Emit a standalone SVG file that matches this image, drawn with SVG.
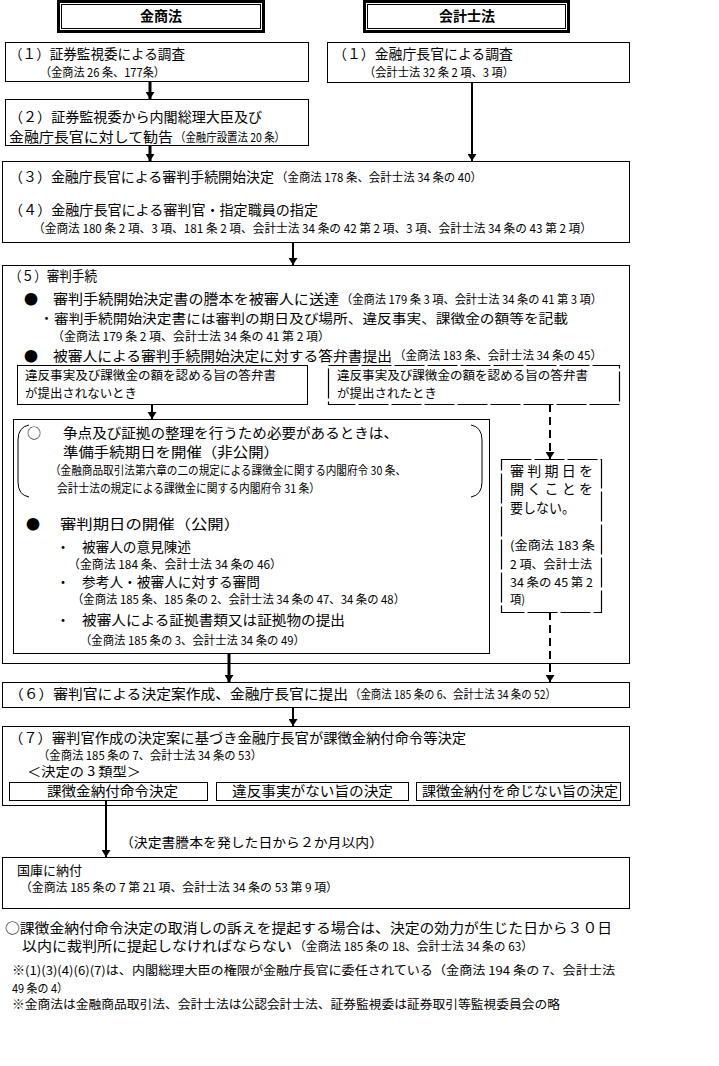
<svg xmlns="http://www.w3.org/2000/svg" width="719" height="1066" viewBox="0 0 719 1066">
<style>
.b{fill:#fff;stroke:#000;stroke-width:1}
.d{fill:#fff;stroke:#000;stroke-width:1.2;stroke-dasharray:30 3}
.t{font-family:"Noto Sans CJK JP","Noto Sans",sans-serif;font-size:14px;fill:#000}
.s{font-family:"Noto Sans CJK JP","Noto Sans",sans-serif;font-size:12px;fill:#000}
.m{font-family:"Noto Sans CJK JP","Noto Sans",sans-serif;font-size:13px;fill:#000}
.h{font-family:"Noto Sans CJK JP","Noto Sans",sans-serif;font-size:14px;font-weight:bold;fill:#000}
.c{stroke:#000;fill:none}
.br{fill:none;stroke:#000;stroke-width:1}
</style>
<defs>
<marker id="ah" markerUnits="userSpaceOnUse" viewBox="0 0 7 9" refX="7" refY="4.5" markerWidth="7" markerHeight="9" orient="auto"><path d="M0,0 L7,4.5 L0,9 z" fill="#000"/></marker>
</defs>
<rect width="719" height="1066" fill="#fff"/>

<g id="header-kinsho">
<rect x="58.5" y="1.5" width="205" height="30" fill="#fff" stroke="#000" stroke-width="3"/>
<rect x="61.5" y="4.5" width="199" height="24" fill="none" stroke="#000" stroke-width="1"/>
<text class="h" x="161" y="21" text-anchor="middle">金商法</text>
</g>
<g id="header-kaikei">
<rect x="364.5" y="1.5" width="204" height="30" fill="#fff" stroke="#000" stroke-width="3"/>
<rect x="367.5" y="4.5" width="198" height="24" fill="none" stroke="#000" stroke-width="1"/>
<text class="h" x="467" y="21" text-anchor="middle">会計士法</text>
</g>

<g id="n1-left">
<rect class="b" x="5.5" y="42.5" width="303" height="39"/>
<text class="t" x="9" y="59" textLength="176" lengthAdjust="spacingAndGlyphs">（１）証券監視委による調査</text>
<text class="s" x="40" y="77" textLength="125" lengthAdjust="spacingAndGlyphs">（金商法 26 条、177条）</text>
</g>
<g id="n2-left">
<rect class="b" x="5.5" y="99.5" width="303" height="46"/>
<text class="t" x="9" y="122" textLength="253" lengthAdjust="spacingAndGlyphs">（２）証券監視委から内閣総理大臣及び</text>
<text class="t" x="9" y="142" textLength="164" lengthAdjust="spacingAndGlyphs">金融庁長官に対して勧告</text>
<text class="s" x="175" y="142" textLength="110" lengthAdjust="spacingAndGlyphs">（金融庁設置法 20 条）</text>
</g>
<g id="n1-right">
<rect class="b" x="327.5" y="42.5" width="302" height="40"/>
<text class="t" x="333" y="59" textLength="180" lengthAdjust="spacingAndGlyphs">（１）金融庁長官による調査</text>
<text class="s" x="364" y="77" textLength="150" lengthAdjust="spacingAndGlyphs">（会計士法 32 条 2 項、3 項）</text>
</g>

<g id="n34">
<rect class="b" x="2.5" y="161.5" width="627" height="81"/>
<text class="t" x="9" y="182" textLength="265" lengthAdjust="spacingAndGlyphs">（３）金融庁長官による審判手続開始決定</text>
<text class="s" x="276" y="181.5" textLength="206" lengthAdjust="spacingAndGlyphs">（金商法 178 条、会計士法 34 条の 40）</text>
<text class="t" x="9" y="214.5" textLength="309" lengthAdjust="spacingAndGlyphs">（４）金融庁長官による審判官・指定職員の指定</text>
<text class="s" x="33" y="233" textLength="559" lengthAdjust="spacingAndGlyphs">（金商法 180 条 2 項、3 項、181 条 2 項、会計士法 34 条の 42 第 2 項、3 項、会計士法 34 条の 43 第 2 項）</text>
</g>

<g id="n5">
<rect class="b" x="2.5" y="265.5" width="627" height="398"/>
<text class="t" x="9" y="281" textLength="88" lengthAdjust="spacingAndGlyphs">（５）審判手続</text>
<text class="t" x="24" y="304">●</text>
<text class="t" x="53" y="304" textLength="286" lengthAdjust="spacingAndGlyphs">審判手続開始決定書の謄本を被審人に送達</text>
<text class="s" x="341" y="303.5" textLength="261" lengthAdjust="spacingAndGlyphs">（金商法 179 条 3 項、会計士法 34 条の 41 第 3 項）</text>
<text class="m" x="40" y="322.5">・</text>
<text class="m" x="54" y="322.5" textLength="514" lengthAdjust="spacingAndGlyphs">審判手続開始決定書には審判の期日及び場所、違反事実、課徴金の額等を記載</text>
<text class="s" x="52" y="340.5" textLength="278" lengthAdjust="spacingAndGlyphs">（金商法 179 条 2 項、会計士法 34 条の 41 第 2 項）</text>
<text class="t" x="24" y="360.5">●</text>
<text class="t" x="53" y="360.5" textLength="339" lengthAdjust="spacingAndGlyphs">被審人による審判手続開始決定に対する答弁書提出</text>
<text class="s" x="394" y="360" textLength="208" lengthAdjust="spacingAndGlyphs">（金商法 183 条、会計士法 34 条の 45）</text>
</g>

<g id="n5a">
<rect class="b" x="17.5" y="365.5" width="290" height="39"/>
<text class="s" x="25" y="380" textLength="251" lengthAdjust="spacingAndGlyphs">違反事実及び課徴金の額を認める旨の答弁書</text>
<text class="s" x="25" y="397.5" textLength="112" lengthAdjust="spacingAndGlyphs">が提出されないとき</text>
</g>
<g id="n5b">
<rect class="d" x="328.5" y="365.5" width="291" height="39"/>
<text class="s" x="337" y="380" textLength="251" lengthAdjust="spacingAndGlyphs">違反事実及び課徴金の額を認める旨の答弁書</text>
<text class="s" x="337" y="397.5" textLength="100" lengthAdjust="spacingAndGlyphs">が提出されたとき</text>
</g>

<g id="n5c">
<rect class="b" x="13.5" y="419.5" width="476" height="234"/>
<path class="br" d="M29,425 Q18,427 18,440 L18,482 Q18,495 29,497"/>
<path class="br" d="M471,425 Q482,427 482,440 L482,482 Q482,495 471,497"/>
<text class="t" x="27" y="438">○</text>
<text class="t" x="63" y="438" textLength="335" lengthAdjust="spacingAndGlyphs">争点及び証拠の整理を行うため必要があるときは、</text>
<text class="t" x="63" y="457" textLength="216" lengthAdjust="spacingAndGlyphs">準備手続期日を開催（非公開）</text>
<text class="s" x="50" y="475" textLength="356" lengthAdjust="spacingAndGlyphs">（金融商品取引法第六章の二の規定による課徴金に関する内閣府令 30 条、</text>
<text class="s" x="57" y="493" textLength="263" lengthAdjust="spacingAndGlyphs">会計士法の規定による課徴金に関する内閣府令 31 条）</text>
<text class="t" x="26" y="529">●</text>
<text class="t" x="60" y="529" textLength="180" lengthAdjust="spacingAndGlyphs">審判期日の開催（公開）</text>
<text class="t" x="56" y="552">・</text>
<text class="t" x="82" y="552" textLength="109" lengthAdjust="spacingAndGlyphs">被審人の意見陳述</text>
<text class="s" x="68" y="568.5" textLength="214" lengthAdjust="spacingAndGlyphs">（金商法 184 条、会計士法 34 条の 46）</text>
<text class="t" x="56" y="587">・</text>
<text class="t" x="82" y="587" textLength="178" lengthAdjust="spacingAndGlyphs">参考人・被審人に対する審問</text>
<text class="s" x="72" y="603.5" textLength="333" lengthAdjust="spacingAndGlyphs">（金商法 185 条、185 条の 2、会計士法 34 条の 47、34 条の 48）</text>
<text class="t" x="56" y="625">・</text>
<text class="t" x="82" y="625" textLength="263" lengthAdjust="spacingAndGlyphs">被審人による証拠書類又は証拠物の提出</text>
<text class="s" x="80" y="644.5" textLength="225" lengthAdjust="spacingAndGlyphs">（金商法 185 条の 3、会計士法 34 条の 49）</text>
</g>

<g id="n5d">
<rect class="d" x="501.5" y="459.5" width="100" height="153"/>
<text class="t" x="510" y="476" textLength="83" lengthAdjust="spacing">審判期日を</text>
<text class="t" x="510" y="494" textLength="83" lengthAdjust="spacing">開くことを</text>
<text class="t" x="510" y="513" textLength="65" lengthAdjust="spacingAndGlyphs">要しない。</text>
<text class="s" x="510" y="549.5" textLength="85" lengthAdjust="spacingAndGlyphs">(金商法 183 条</text>
<text class="s" x="510" y="568.5" textLength="82" lengthAdjust="spacingAndGlyphs">2 項、会計士法</text>
<text class="s" x="510" y="586.5" textLength="83" lengthAdjust="spacingAndGlyphs">34 条の 45 第 2</text>
<text class="s" x="510" y="603.5" textLength="15" lengthAdjust="spacingAndGlyphs">項)</text>
</g>

<g id="n6">
<rect class="b" x="2.5" y="682.5" width="627" height="25"/>
<text class="t" x="9" y="699" textLength="339" lengthAdjust="spacingAndGlyphs">（６）審判官による決定案作成、金融庁長官に提出</text>
<text class="s" x="350" y="698.5" textLength="206" lengthAdjust="spacingAndGlyphs">（金商法 185 条の 6、会計士法 34 条の 52）</text>
</g>

<g id="n7">
<rect class="b" x="2.5" y="726.5" width="627" height="79"/>
<text class="t" x="9" y="743" textLength="457" lengthAdjust="spacingAndGlyphs">（７）審判官作成の決定案に基づき金融庁長官が課徴金納付命令等決定</text>
<text class="s" x="38" y="759.5" textLength="224" lengthAdjust="spacingAndGlyphs">（金商法 185 条の 7、会計士法 34 条の 53）</text>
<text class="m" x="27" y="776" textLength="114" lengthAdjust="spacingAndGlyphs">＜決定の 3 類型＞</text>
</g>
<g id="n7a">
<rect class="b" x="9.5" y="782.5" width="198" height="18"/>
<text class="t" x="47" y="796" textLength="131" lengthAdjust="spacingAndGlyphs">課徴金納付命令決定</text>
</g>
<g id="n7b">
<rect class="b" x="216.5" y="782.5" width="192" height="18"/>
<text class="t" x="232" y="796" textLength="161" lengthAdjust="spacingAndGlyphs">違反事実がない旨の決定</text>
</g>
<g id="n7c">
<rect class="b" x="416.5" y="782.5" width="204" height="18"/>
<text class="t" x="422" y="796" textLength="196" lengthAdjust="spacingAndGlyphs">課徴金納付を命じない旨の決定</text>
</g>

<g id="n8">
<rect class="b" x="2.5" y="857.5" width="627" height="51"/>
<text class="m" x="17" y="875" textLength="65" lengthAdjust="spacingAndGlyphs">国庫に納付</text>
<text class="s" x="20" y="891.5" textLength="318" lengthAdjust="spacingAndGlyphs">（金商法 185 条の 7 第 21 項、会計士法 34 条の 53 第 9 項）</text>
</g>

<g id="connectors">
<line class="c" x1="150" y1="81" x2="150" y2="99" stroke-width="3" marker-end="url(#ah)"/>
<line class="c" x1="150" y1="145" x2="150" y2="161" stroke-width="3" marker-end="url(#ah)"/>
<line class="c" x1="472" y1="82" x2="472" y2="161" stroke-width="2" marker-end="url(#ah)"/>
<line class="c" x1="293" y1="242" x2="293" y2="265" stroke-width="2" marker-end="url(#ah)"/>
<line class="c" x1="152" y1="404" x2="152" y2="419" stroke-width="2" marker-end="url(#ah)"/>
<line class="c" x1="550" y1="404" x2="550" y2="459" stroke-width="2" stroke-dasharray="8 5" marker-end="url(#ah)"/>
<line class="c" x1="229" y1="653" x2="229" y2="682" stroke-width="3" marker-end="url(#ah)"/>
<line class="c" x1="550" y1="612" x2="550" y2="682" stroke-width="2" stroke-dasharray="8 5" marker-end="url(#ah)"/>
<line class="c" x1="293" y1="707" x2="293" y2="726" stroke-width="2" marker-end="url(#ah)"/>
<line class="c" x1="106" y1="800" x2="106" y2="857" stroke-width="2" marker-end="url(#ah)"/>
<text class="m" x="120" y="846.5" textLength="263" lengthAdjust="spacingAndGlyphs">（決定書謄本を発した日から２か月以内）</text>
</g>

<g id="notes">
<text class="t" x="5" y="933" textLength="607" lengthAdjust="spacingAndGlyphs">○課徴金納付命令決定の取消しの訴えを提起する場合は、決定の効力が生じた日から３０日</text>
<text class="t" x="22" y="951" textLength="270" lengthAdjust="spacingAndGlyphs">以内に裁判所に提起しなければならない</text>
<text class="s" x="294" y="950.5" textLength="239" lengthAdjust="spacingAndGlyphs">（金商法 185 条の 18、会計士法 34 条の 63）</text>
<text class="s" x="12" y="974.5" textLength="603" lengthAdjust="spacingAndGlyphs">※(1)(3)(4)(6)(7)は、内閣総理大臣の権限が金融庁長官に委任されている（金商法 194 条の 7、会計士法</text>
<text class="s" x="12" y="992.5" textLength="56" lengthAdjust="spacingAndGlyphs">49 条の 4）</text>
<text class="s" x="12" y="1008.5" textLength="548" lengthAdjust="spacingAndGlyphs">※金商法は金融商品取引法、会計士法は公認会計士法、証券監視委は証券取引等監視委員会の略</text>
</g>
</svg>
